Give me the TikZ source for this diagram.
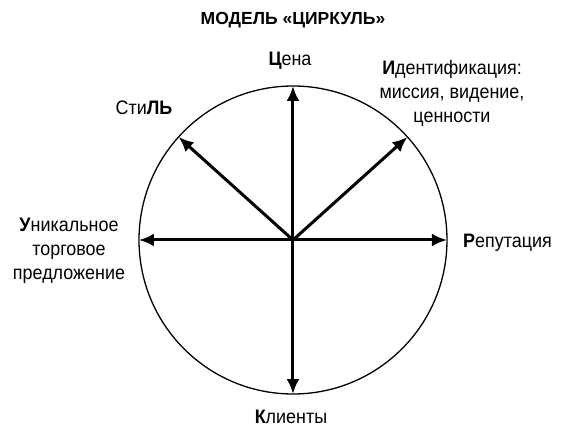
\documentclass[tikz,border=0pt]{standalone}
\usepackage{fontspec}
\setmainfont{Liberation Sans}
\newfontfamily\narrowfont[FakeStretch=0.92]{Liberation Sans}
\usetikzlibrary{arrows.meta}

\begin{document}
\begin{tikzpicture}[x=1pt,y=1pt,
        spoke/.style={line width=3pt, -{Latex[length=15pt,width=13pt]}},
        lbl/.style={font=\narrowfont\fontsize{19.5}{24}\selectfont, inner sep=0pt, anchor=base},
        lbls/.style={font=\narrowfont\fontsize{19.5}{24}\selectfont, inner sep=0pt, align=center}]
    \useasboundingbox (-293,-194) rectangle (286,240);

    % circle
    \node[draw, circle, line width=1.3pt, minimum size=308pt, inner sep=0pt, outer sep=0pt] (ring) at (0,0) {};

    % arrows
    \foreach \a in {0,42,90,138,180,270}
        \draw[spoke] (ring.center) -- (ring.\a);

    % labels
    \node[lbl, font=\fontsize{17.5}{20}\selectfont\bfseries] (title) at (0,215) {МОДЕЛЬ «ЦИРКУЛЬ»};
    \node[lbl] (price) at (-3,174) {\textbf{Ц}ена};
    \node[lbls] (ident) at (159,147) {\textbf{И}дентификация:\\миссия, видение,\\ценности};
    \node[lbl] (style) at (-149,125) {Сти\textbf{ЛЬ}};
    \node[lbls] (usp) at (-224,-11) {\textbf{У}никальное\\торговое\\предложение};
    \node[lbl, anchor=base west] (rep) at (170,-8) {\textbf{Р}епутация};
    \node[lbl] (clients) at (-2,-183) {\textbf{К}лиенты};

\end{tikzpicture}
\end{document}
